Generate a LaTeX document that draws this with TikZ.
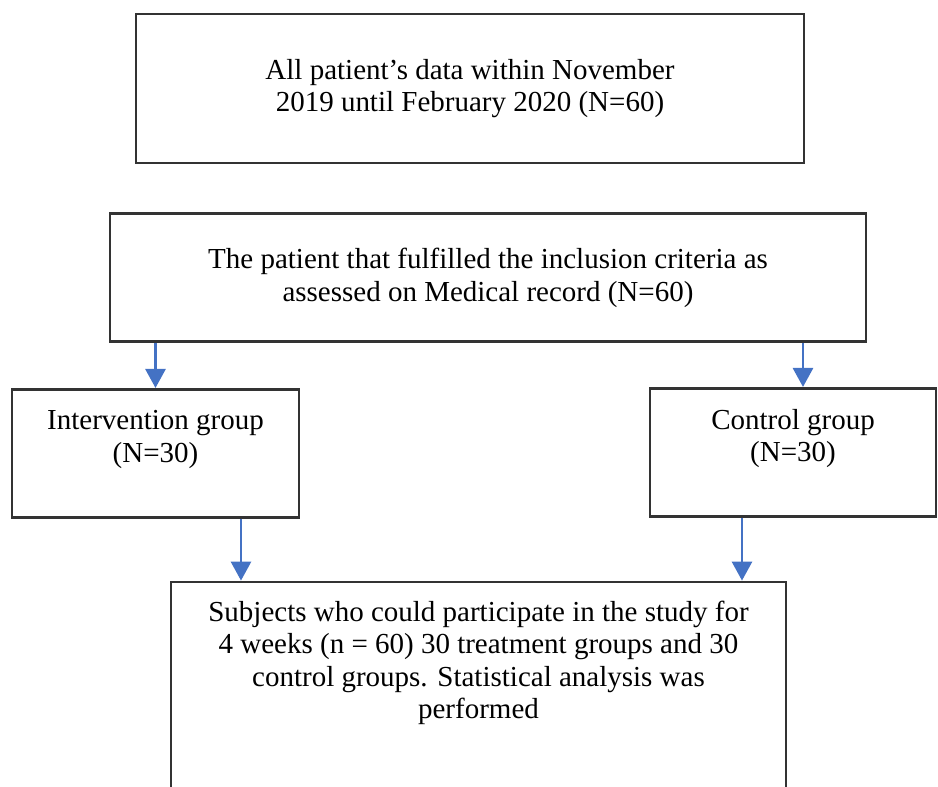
\documentclass[tikz,border=0pt]{standalone}
\usepackage{fontspec}
\setmainfont{Liberation Serif}
\usepackage{tikz}
\usetikzlibrary{positioning, arrows.meta}

\definecolor{arrowblue}{HTML}{4472C4}
\newcommand{\boxlift}[1]{\rule[-#1]{0pt}{0pt}}

\begin{document}
\begin{tikzpicture}[node distance=0.9cm,
        every node/.style={font=\fontsize{16.5}{18.5}\selectfont},
        box/.style={draw=black!80, line width=1.5pt, rectangle, align=center},
        flow/.style={draw=arrowblue, line width=1.6pt, -{Triangle[width=0.4cm, length=0.38cm]}}]
        \useasboundingbox (-9.4,1.77) rectangle (9.36,-13.95);
        \clip (-9.4,1.77) rectangle (9.36,-13.95);

        \node[box, minimum width=13.36cm, minimum height=2.98cm] (alldata) at (0,0) {All patient’s data within November\\2019 until February 2020 (N=60)};
        \node[box, minimum width=15.12cm, minimum height=2.56cm, below=0.96cm of alldata, xshift=0.36cm] (crit) {The patient that fulfilled the inclusion criteria as\\assessed on Medical record (N=60)};

        \node[box, minimum width=5.74cm, minimum height=2.56cm, below=0.9cm of crit.south west, anchor=north west, xshift=-1.96cm] (inter) {Intervention group\\(N=30)\boxlift{0.68cm}};
        \node[box, minimum width=5.72cm, minimum height=2.56cm, below=0.88cm of crit.south east, anchor=north east, xshift=1.4cm] (ctrl) {Control group\\(N=30)\boxlift{0.68cm}};

        \node[box, minimum width=12.3cm, minimum height=5.12cm, below=1.24cm of inter.south west, anchor=north west, xshift=3.18cm] (result) {Subjects who could participate in the study for\\4 weeks (n = 60) 30 treatment groups and 30\\control groups. Statistical analysis was\\performed\boxlift{2.0cm}};

        \draw[flow] (inter.north |- crit.south) -- (inter.north);
        \draw[flow] ([xshift=0.2cm]ctrl.north |- crit.south) -- ([xshift=0.2cm]ctrl.north);
        \draw[flow] ([xshift=1.71cm]inter.south) -- ([xshift=1.71cm]inter.south |- result.north);
        \draw[flow] ([xshift=-1.02cm]ctrl.south) -- ([xshift=-1.02cm]ctrl.south |- result.north);
    \end{tikzpicture}
\end{document}
